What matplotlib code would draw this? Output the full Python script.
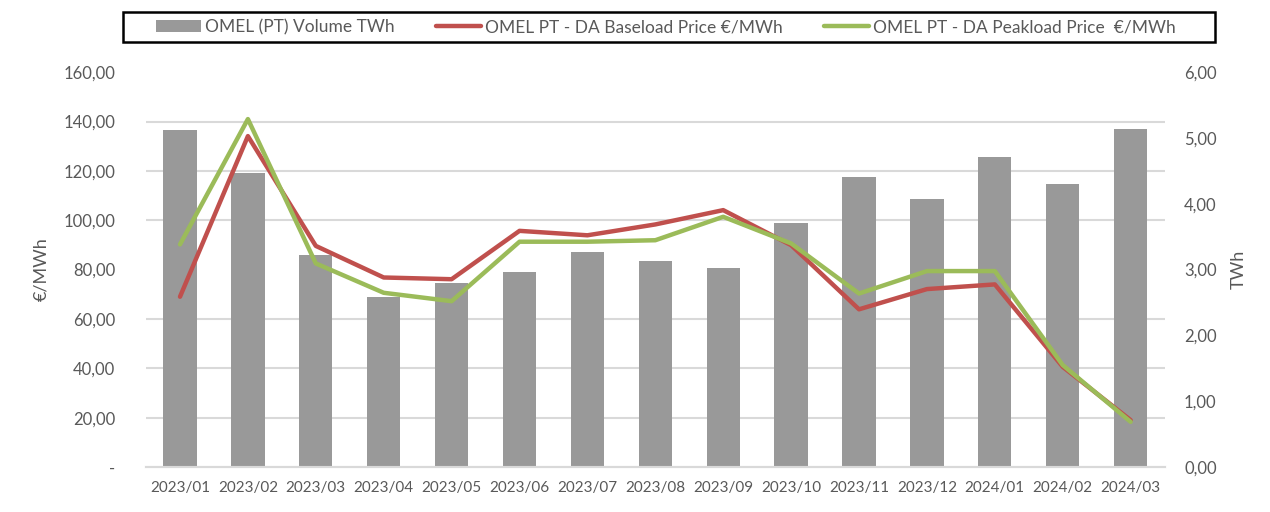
import matplotlib
matplotlib.use("Agg")
import matplotlib.pyplot as plt
import numpy as np
from matplotlib.ticker import FuncFormatter
from matplotlib.patches import Rectangle

months = ["2023/01", "2023/02", "2023/03", "2023/04", "2023/05", "2023/06", "2023/07",
          "2023/08", "2023/09", "2023/10", "2023/11", "2023/12", "2024/01", "2024/02", "2024/03"]
volume_twh = [5.12, 4.47, 3.22, 2.58, 2.80, 2.96, 3.27, 3.13, 3.02, 3.71, 4.41, 4.07, 4.71, 4.30, 5.13]
baseload = [69.0, 134.1, 89.6, 76.8, 76.1, 95.7, 93.9, 98.3, 104.1, 89.9, 63.9, 72.1, 74.0, 40.6, 19.0]
peakload = [90.2, 141.0, 82.5, 70.6, 67.2, 91.3, 91.3, 91.9, 101.4, 90.6, 70.3, 79.4, 79.4, 41.3, 18.3]

plt.rcParams['font.family'] = ['Lato', 'DejaVu Sans']

W, H = 1270, 512
fig = plt.figure(figsize=(12.7, 5.12), dpi=100)
ax_bar = fig.add_axes([0.1150, 0.0879, 0.8020, 0.7711])
ax_line = ax_bar.twinx()

x = np.arange(len(months))
txt_col = "#595959"
grid_col = "#d9d9d9"

# bars on right axis
bars = ax_bar.bar(x, volume_twh, width=0.49, color="#999999", zorder=2,
                  label="OMEL (PT) Volume TWh")
ax_bar.set_ylim(0, 6)
ax_bar.set_xlim(-0.5, len(months) - 0.5)
ax_bar.yaxis.tick_right()
ax_bar.yaxis.set_label_position("right")
ax_bar.set_yticks(np.arange(0, 6.01, 1))
ax_bar.yaxis.set_major_formatter(FuncFormatter(lambda v, p: f"{v:.2f}".replace(".", ",")))
ax_bar.set_yticks(np.linspace(0, 6, 9), minor=True)
ax_bar.grid(which="minor", axis="y", color=grid_col, linewidth=1.5, zorder=0)
ax_bar.set_axisbelow(True)
ax_bar.tick_params(axis="y", which="both", length=0, labelsize=12, colors=txt_col, pad=14)
ax_bar.set_ylabel("TWh", color=txt_col, fontsize=13, labelpad=10)
ax_bar.set_xticks(x)
ax_bar.set_xticklabels(months)
ax_bar.tick_params(axis="x", length=0, labelsize=11, colors=txt_col, pad=10)

# lines on left axis
l1, = ax_line.plot(x, baseload, color="#C0504D", linewidth=3.2, solid_capstyle="round",
                   label="OMEL PT - DA Baseload Price €/MWh")
l2, = ax_line.plot(x, peakload, color="#9BBB59", linewidth=3.2, solid_capstyle="round",
                   label="OMEL PT - DA Peakload Price  €/MWh")
ax_line.set_ylim(0, 160)
ax_line.yaxis.tick_left()
ax_line.yaxis.set_label_position("left")
ax_line.set_yticks(np.arange(0, 161, 20))
ax_line.yaxis.set_major_formatter(FuncFormatter(lambda v, p: "-" if v == 0 else f"{v:.2f}".replace(".", ",")))
ax_line.tick_params(axis="y", length=0, labelsize=12, colors=txt_col, pad=22)
ax_line.set_ylabel("€/MWh", color=txt_col, fontsize=13, labelpad=10)

for a in (ax_bar, ax_line):
    for s in ("top", "left", "right"):
        a.spines[s].set_visible(False)
    a.spines["bottom"].set_color(grid_col)
    a.spines["bottom"].set_linewidth(1.5)

leg = fig.legend(handles=[bars, l1, l2], loc="center", bbox_to_anchor=(666 / W, 1 - 27 / H),
                 ncol=3, frameon=False, fontsize=12.5,
                 handlelength=2.6, columnspacing=2.4, handletextpad=0.2,
                 borderpad=0.2, labelcolor=txt_col)

# legend box
fig.patches.append(Rectangle((123 / W, 1 - 42 / H), (1215 - 123) / W, 30 / H,
                             transform=fig.transFigure, fill=False, edgecolor="black",
                             linewidth=1.8, zorder=5))

fig.savefig("out.png", dpi=100, facecolor="white")
